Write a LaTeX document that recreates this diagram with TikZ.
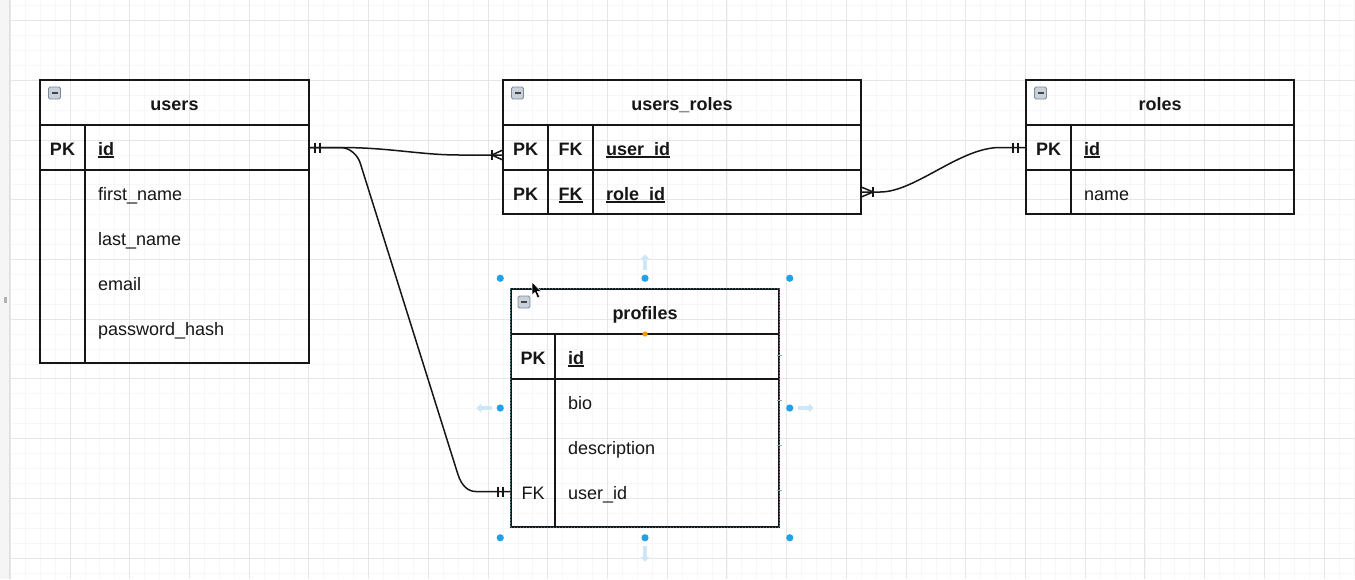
\documentclass[tikz,border=0pt]{standalone}
\usepackage{fontspec}
\newfontfamily\tabfont{Liberation Sans}
\usetikzlibrary{calc}
\definecolor{ink}{HTML}{161616}
\definecolor{gridminor}{HTML}{F7F7F7}
\definecolor{gridmajor}{HTML}{E6E6E6}
\definecolor{handle}{HTML}{1FA3E6}
\definecolor{hover}{HTML}{CDE7F6}
\definecolor{iconfill}{HTML}{C9D2DA}
\definecolor{iconedge}{HTML}{7D8B98}
\definecolor{selline}{HTML}{3E7282}
\newcommand\erfont{\tabfont\fontsize{18}{21}\selectfont}
% underline set at a fixed depth under the baseline
\newcommand\undl[1]{\setbox0\hbox{#1}\rlap{\vrule width\wd0 height -1.4pt depth 3pt}\box0}
\tikzset{
  frame/.style={draw=ink, line width=1.5pt, inner sep=0pt},
  sep/.style={draw=ink, line width=1.5pt},
  rowbox/.style={inner sep=0pt, minimum height=45pt},
  title/.style={font=\erfont\bfseries, text=ink, anchor=base, inner sep=0pt},
  keytxt/.style={font=\erfont\bfseries, text=ink, anchor=base, inner sep=0pt},
  plainkey/.style={font=\erfont, text=ink, anchor=base, inner sep=0pt},
  fld/.style={font=\erfont, text=ink, anchor=base west, inner sep=0pt},
  keyfld/.style={font=\erfont\bfseries, text=ink, anchor=base west, inner sep=0pt},
  link/.style={draw=ink, line width=1.5pt, line cap=round, line join=round},
  endtick/.style={draw=ink, line width=1.5pt},
  minorgrid/.style={draw=gridminor, line width=0.8pt},
  majorgrid/.style={draw=gridmajor, line width=1pt},
  knob/.style={fill=handle, draw=none},
  hint/.style={fill=hover, draw=none},
}
% small collapse icon at the top left corner of a table
\newcommand\collapsebox[2]{%
  \fill[iconfill, draw=iconedge, line width=0.8pt, rounded corners=1.5pt] (#1,#2) rectangle ++(12,12);
  \draw[ink!80, line width=1.6pt] (#1+3,#2+6) -- (#1+9,#2+6);}
\begin{document}
\begin{tikzpicture}[x=1pt,y=-1pt]
\useasboundingbox (0,0) rectangle (1355,579);
\fill[white] (0,0) rectangle (1355,579);
% side strip
\fill[gray!8] (0,0) rectangle (9.5,579);
\draw[gray!25, line width=0.8pt] (9.5,0) -- (9.5,579);
\fill[gray!60] (4,297) rectangle (6.7,302.5);
% background grid
\foreach \k in {-4,...,86} \draw[minorgrid] ({70+\k*14.93},0) -- ({70+\k*14.93},579);
\foreach \k in {-9,...,29} \draw[minorgrid] (10,{140+\k*14.93}) -- (1355,{140+\k*14.93});
\foreach \k in {-1,...,21} \draw[majorgrid] ({70+\k*59.72},0) -- ({70+\k*59.72},579);
\foreach \k in {-2,...,7} \draw[majorgrid] (10,{140+\k*59.72}) -- (1355,{140+\k*59.72});

% ---------------- users ----------------
\node[frame, minimum width=269pt, minimum height=283pt] (users) at (174.5,221.5) {};
\draw[sep] (40,125) -- (309,125);
\draw[sep] (40,170) -- (309,170);
\draw[sep] (85,125) -- (85,363);
\collapsebox{48.5}{87}
\node[title] (users-title) at (174.5,110) {users};
\node[rowbox, minimum width=269pt] (users-id) at (174.5,147.5) {};
\node[keytxt] (users-pk) at (62.5,155) {PK};
\node[keyfld] (users-idtxt) at (98,155) {\undl{id}};
\node[fld] (users-first) at (98,200) {first\_name};
\node[fld] (users-last) at (98,245) {last\_name};
\node[fld] (users-email) at (98,290) {email};
\node[fld] (users-pass) at (98,335) {password\_hash};

% ---------------- users_roles ----------------
\node[frame, minimum width=358pt, minimum height=134pt] (ur) at (682,147) {};
\draw[sep] (503,125) -- (861,125);
\draw[sep] (503,170) -- (861,170);
\draw[sep] (548,125) -- (548,214);
\draw[sep] (593,125) -- (593,214);
\collapsebox{511.5}{87}
\node[title] (ur-title) at (682,110) {users\_roles};
\node[rowbox, minimum width=358pt] (ur-uid) at (682,147.5) {};
\node[rowbox, minimum width=358pt, minimum height=44pt] (ur-rid) at (682,192) {};
\node[keytxt] (ur-pk1) at (525.5,155) {PK};
\node[keytxt] (ur-fk1) at (570.5,155) {FK};
\node[keyfld] (ur-uidtxt) at (606,155) {\undl{user\_id}};
\node[keytxt] (ur-pk2) at (525.5,200) {PK};
\node[keytxt] (ur-fk2) at (570.5,200) {\undl{FK}};
\node[keyfld] (ur-ridtxt) at (606,200) {\undl{role\_id}};

% ---------------- roles ----------------
\node[frame, minimum width=268pt, minimum height=134pt] (roles) at (1160,147) {};
\draw[sep] (1026,125) -- (1294,125);
\draw[sep] (1026,170) -- (1294,170);
\draw[sep] (1071,125) -- (1071,214);
\collapsebox{1034.5}{87}
\node[title] (roles-title) at (1160,110) {roles};
\node[rowbox, minimum width=268pt] (roles-id) at (1160,147.5) {};
\node[keytxt] (roles-pk) at (1048.5,155) {PK};
\node[keyfld] (roles-idtxt) at (1084,155) {\undl{id}};
\node[fld] (roles-name) at (1084,200) {name};

% ---------------- profiles ----------------
\node[frame, minimum width=268pt, minimum height=238pt] (profiles) at (645,408) {};
\draw[selline, line width=0.7pt, dash pattern=on 1.5pt off 1.5pt] (profiles.north west) rectangle (profiles.south east);
\draw[sep] (511,334) -- (779,334);
\draw[sep] (511,379) -- (779,379);
\draw[sep] (555,334) -- (555,527);
\collapsebox{518}{296}
\node[title] (profiles-title) at (645,319) {profiles};
\node[rowbox, minimum width=268pt] (pr-id) at (645,356.5) {};
\node[rowbox, minimum width=268pt] (pr-uid) at (645,491.5) {};
\node[keytxt] (pr-pk) at (533,364) {PK};
\node[keyfld] (pr-idtxt) at (568,364) {\undl{id}};
\node[fld] (pr-bio) at (568,409) {bio};
\node[fld] (pr-desc) at (568,454) {description};
\node[plainkey] (pr-fk) at (533,499) {FK};
\node[fld] (pr-uidtxt) at (568,499) {user\_id};
% connection ticks on the right edge
\foreach \yy in {355,400,445,490} \draw[gray!70, line width=1pt] (777,\yy) -- (782,\yy);

% ---------------- relationships ----------------
% users.id -> users_roles.user_id
\draw[link] (users-id.east) -- ($(users-id.east)+(31,0)$)
  .. controls ($(users-id.east)+(81,0)$) and ($(ur-uid.west)+(-83,7.5)$)
  .. ($(ur-uid.west)+(-43,7.5)$) -- ($(ur-uid.west)+(0,7.5)$);
% users.id -> profiles.user_id
\draw[link] (users-id.east) -- ($(users-id.east)+(31,0)$)
  .. controls ($(users-id.east)+(41,0)$) and ($(users-id.east)+(48.6,8)$)
  .. ($(users-id.east)+(51,15.5)$) -- ($(pr-uid.west)+(-53,-17.5)$)
  .. controls ($(pr-uid.west)+(-49.4,-6)$) and ($(pr-uid.west)+(-43,0)$)
  .. ($(pr-uid.west)+(-35,0)$) -- (pr-uid.west);
% users_roles.role_id -> roles.id
\draw[link] (ur-rid.east) -- ($(ur-rid.east)+(19,0)$)
  .. controls ($(ur-rid.east)+(54,0)$) and ($(roles-id.west)+(-66,0)$)
  .. ($(roles-id.west)+(-26,0)$) -- (roles-id.west);

% one-and-only-one ends
\foreach \dx in {6,11} \draw[endtick] ($(users-id.east)+(\dx,-5)$) -- ++(0,10);
\foreach \dx in {-13,-8} \draw[endtick] ($(roles-id.west)+(\dx,-5)$) -- ++(0,10);
\foreach \dx in {-13,-8} \draw[endtick] ($(pr-uid.west)+(\dx,-5)$) -- ++(0,10);
% one-or-many ends
\draw[endtick] ($(ur-uid.west)+(-11,2.5)$) -- ++(0,10);
\draw[endtick, line join=round] ($(ur-uid.west)+(0,2.5)$) -- ($(ur-uid.west)+(-11,7.5)$) -- ($(ur-uid.west)+(0,12.5)$);
\draw[endtick] ($(ur-rid.east)+(12,-5)$) -- ++(0,10);
\draw[endtick, line join=round] ($(ur-rid.east)+(0,-5)$) -- ($(ur-rid.east)+(12,0)$) -- ($(ur-rid.east)+(0,5)$);

% ---------------- selection handles on profiles ----------------
\foreach \p/\d in {north west/{-10,-10}, north/{0,-10}, north east/{10,-10}, west/{-10,0}, east/{10,0}, south west/{-10,10}, south/{0,10}, south east/{10,10}}
  \fill[knob] ($(profiles.\p)+(\d)$) circle (3.6pt);
\fill[orange!80!yellow] (profiles-title |- 0,334) circle (2.6pt);
% hover arrows
\fill[hint] ($(profiles.north)+(-1.6,-18)$) rectangle ($(profiles.north)+(1.6,-30)$);
\fill[hint] ($(profiles.north)+(-4.5,-29)$) -- ($(profiles.north)+(0,-34)$) -- ($(profiles.north)+(4.5,-29)$) -- cycle;
\fill[hint] ($(profiles.south)+(-1.6,18)$) rectangle ($(profiles.south)+(1.6,30)$);
\fill[hint] ($(profiles.south)+(-4.5,29)$) -- ($(profiles.south)+(0,34)$) -- ($(profiles.south)+(4.5,29)$) -- cycle;
\fill[hint] ($(profiles.west)+(-18,-1.6)$) rectangle ($(profiles.west)+(-30,1.6)$);
\fill[hint] ($(profiles.west)+(-29,-4.5)$) -- ($(profiles.west)+(-34,0)$) -- ($(profiles.west)+(-29,4.5)$) -- cycle;
\fill[hint] ($(profiles.east)+(18,-1.6)$) rectangle ($(profiles.east)+(30,1.6)$);
\fill[hint] ($(profiles.east)+(29,-4.5)$) -- ($(profiles.east)+(34,0)$) -- ($(profiles.east)+(29,4.5)$) -- cycle;

% pointer
\filldraw[fill=black, draw=white, line width=0.5pt, line join=round]
  (532,282) -- (532,295) -- (535,292.3) -- (537.6,298) -- (539.8,297) -- (537.2,291.4) -- (541,291.4) -- cycle;
\end{tikzpicture}
\end{document}
